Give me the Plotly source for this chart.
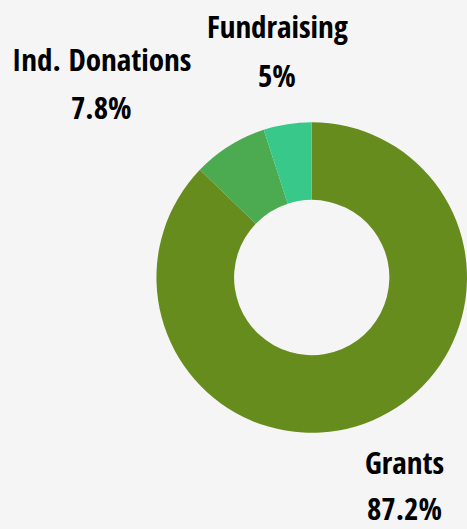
import plotly.graph_objects as go

labels = ["Grants", "Ind. Donations", "Fundraising"]
values = [87.2, 7.8, 5.0]
colors = ["#668c1e", "#4caa50", "#38c98a"]
pct_text = ["87.2%", "7.8%", "5%"]

W, H = 467, 529
# label placement (pixel centres) for each category: (x, y_name, y_pct)
label_pos = {
    "Grants": (404, 462, 508),
    "Ind. Donations": (101, 59, 107),
    "Fundraising": (277, 26, 75),
}

font_family = "Open Sans Condensed, Roboto Condensed, sans-serif"

fig = go.Figure(go.Pie(
    labels=labels,
    values=values,
    marker=dict(colors=colors, line=dict(width=0)),
    hole=0.5,
    sort=False,
    direction="clockwise",
    rotation=0,
    textinfo="none",
    hoverinfo="label+percent",
    domain=dict(x=[0.335, 1.0], y=[1 - (277.5 + 157.5) / H, 1 - (277.5 - 157.5) / H]),
    showlegend=False,
))

annotations = []
for lab, pct in zip(labels, pct_text):
    x, yn, yp = label_pos[lab]
    for txt, yy in ((lab, yn), (pct, yp)):
        annotations.append(dict(
            text="<b>%s</b>" % txt,
            x=x / W, y=1 - yy / H, xref="paper", yref="paper",
            xanchor="center", yanchor="middle", showarrow=False,
            font=dict(family=font_family, size=31, color="#000000"),
        ))

fig.update_layout(
    width=W, height=H,
    margin=dict(l=0, r=0, t=0, b=0),
    paper_bgcolor="#f5f5f5",
    plot_bgcolor="#f5f5f5",
    annotations=annotations,
)

fig.write_html("out.html", config={"displayModeBar": False},
               post_script="document.body.style.margin='0';document.body.style.background='#f5f5f5';")
